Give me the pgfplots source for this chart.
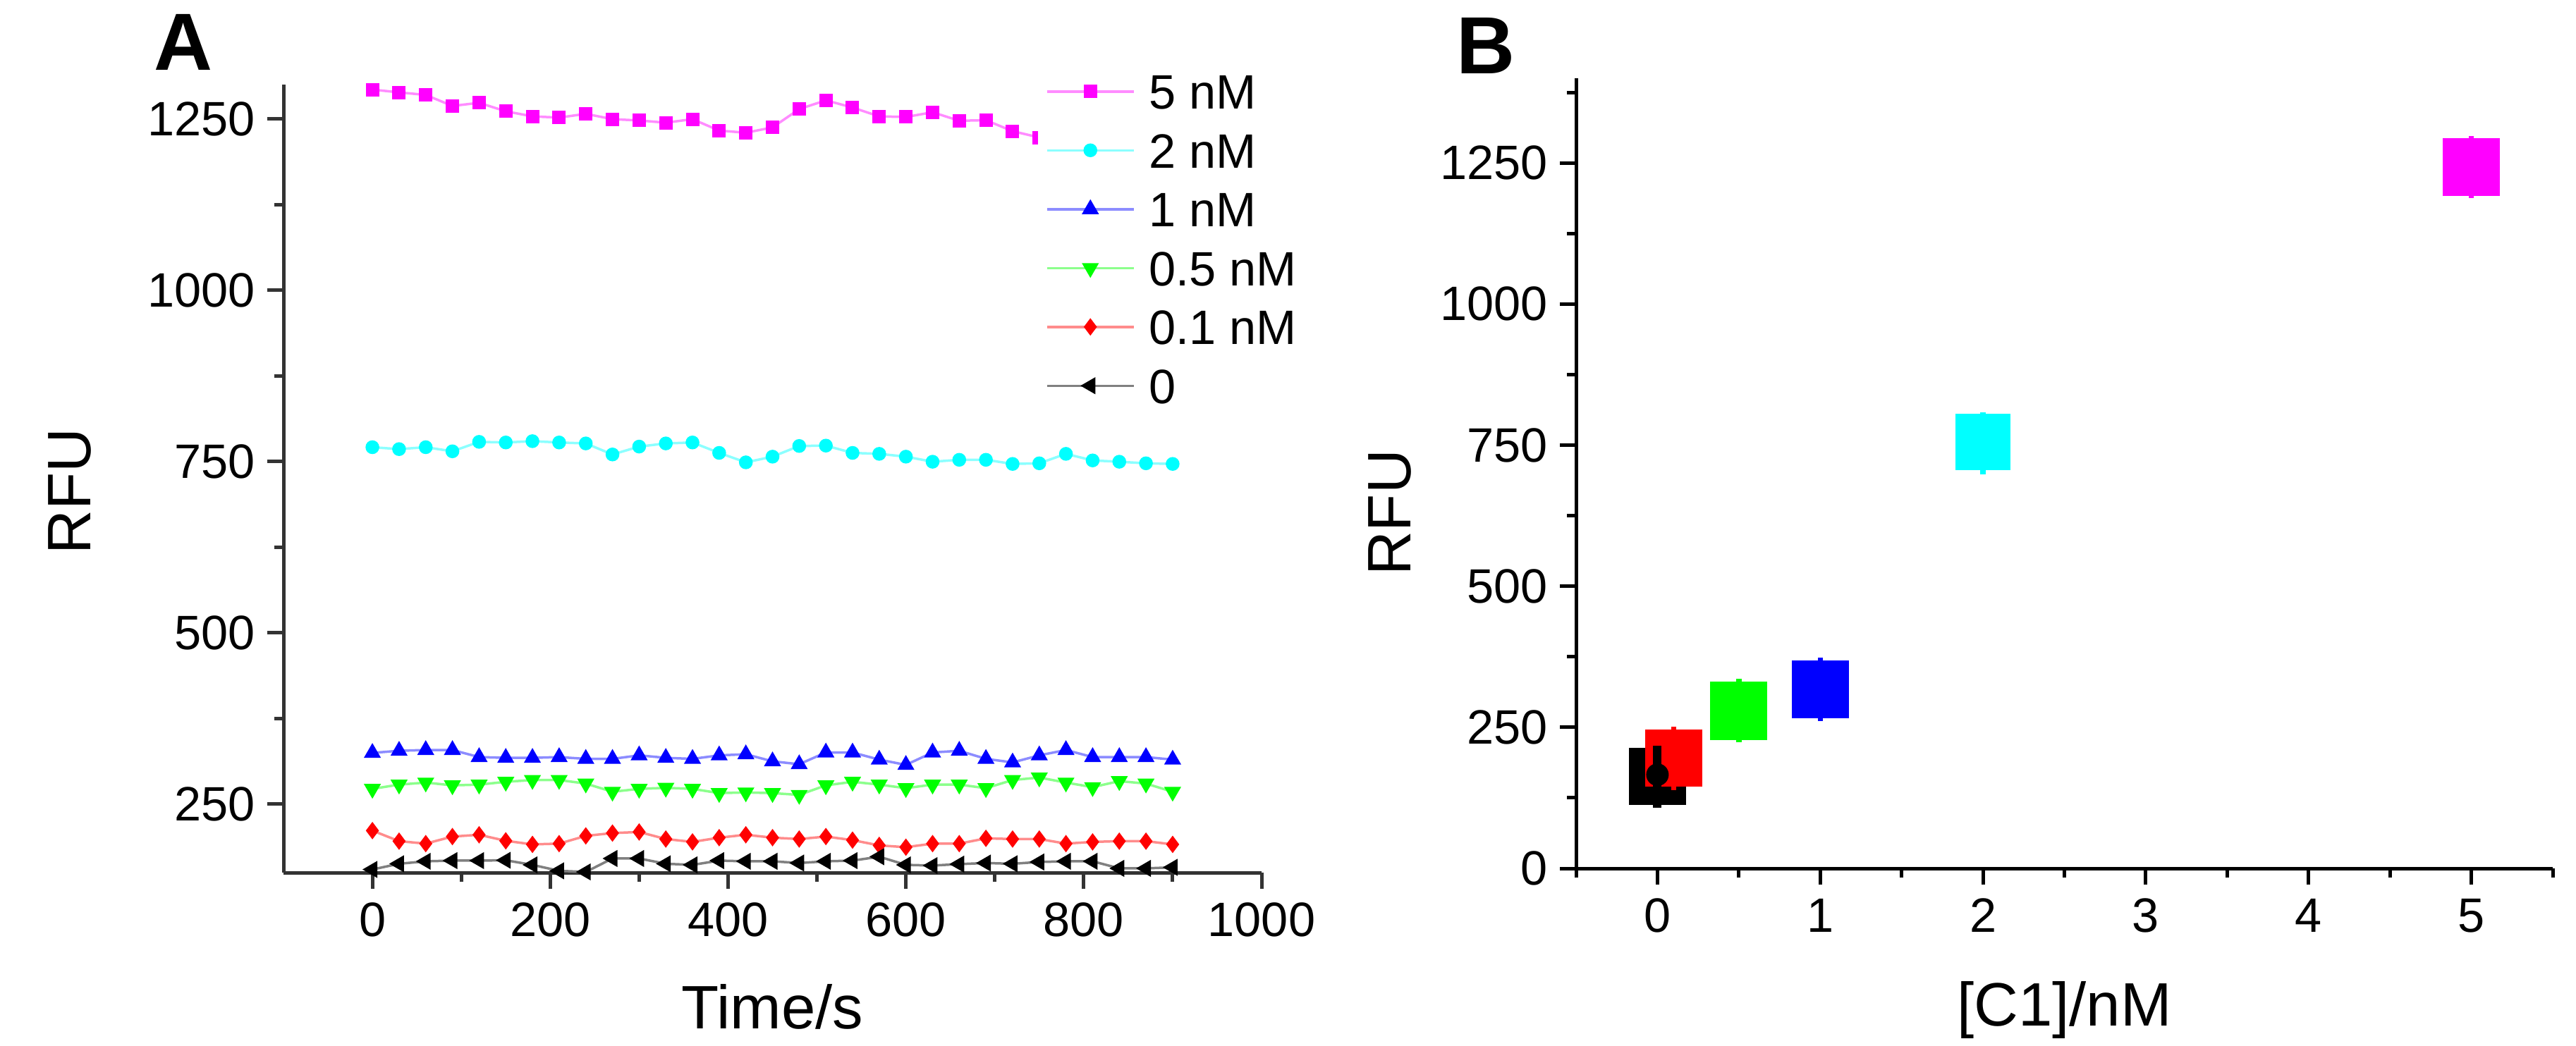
\documentclass[border=0pt]{standalone}
\usepackage{fontspec}
\setmainfont{Liberation Sans}
\usepackage{pgfplots}
\usepackage{pgfplotstable}
\pgfplotsset{compat=1.18}

\definecolor{cMag}{RGB}{255,0,255}
\definecolor{cCya}{RGB}{0,255,255}
\definecolor{cBlu}{RGB}{0,0,255}
\definecolor{cGre}{RGB}{0,255,0}
\definecolor{cRed}{RGB}{255,0,0}
\definecolor{cBla}{RGB}{0,0,0}

\pgfplotstableread{
t m c b g r k
0 1292.7 770.8 324.7 272.2 211.3 154.6
30 1288.6 768.0 327.8 278.4 195.9 162.9
60 1284.9 770.8 328.9 281.4 192.3 166.5
90 1268.8 764.8 328.9 277.3 202.6 167.5
120 1273.4 778.6 318.6 278.4 205.2 167.5
150 1261.0 777.7 317.5 282.5 196.4 168.0
180 1253.6 779.6 317.5 285.1 191.2 161.3
210 1251.8 777.7 318.6 285.1 192.3 152.6
240 1257.3 776.3 316.0 279.9 203.6 151.0
270 1249.5 760.2 316.0 268.0 207.7 170.6
300 1247.6 771.7 321.1 272.2 209.3 170.6
330 1244.4 776.3 317.5 273.7 199.0 162.9
360 1249.5 777.7 316.0 272.2 194.8 161.3
390 1232.9 762.5 321.1 266.0 201.0 167.5
420 1229.7 748.7 322.7 267.0 205.2 166.5
450 1237.5 757.0 312.4 266.0 201.0 166.5
480 1264.2 772.6 308.2 263.4 199.0 164.0
510 1277.0 773.1 325.3 277.3 202.6 166.5
540 1266.5 762.5 325.3 282.5 197.4 167.5
570 1253.6 761.1 314.9 278.4 189.7 173.2
600 1252.7 757.0 307.2 273.2 187.1 161.3
630 1259.6 749.6 325.3 278.4 192.3 160.3
660 1247.2 752.4 327.8 278.4 192.3 162.4
690 1248.0 752.4 316.0 273.2 200.0 164.0
720 1232.0 746.4 310.8 285.1 199.0 162.9
750 1222.8 747.3 321.1 288.7 199.0 165.5
780 1220.0 761.1 328.9 281.4 192.3 166.5
810 1215.0 751.5 318.6 274.7 194.8 166.5
840 1218.0 749.6 318.6 283.5 195.9 156.2
870 1212.0 747.3 318.6 279.9 195.9 156.2
900 1210.0 746.4 314.9 268.0 191.2 157.7
}\dataA

\newcommand{\ticksize}{\fontsize{13.7bp}{16bp}\selectfont}
\newcommand{\labsize}{\fontsize{17.4bp}{20bp}\selectfont}

\pgfplotsset{
  common/.style={
    scale only axis,
    axis lines=left,
    axis line style={-, line width=1bp},
    tick align=outside,
    tick style={line width=1bp},
    major tick length=4.6bp,
    minor tick length=2.6bp,
    tick label style={font=\ticksize},
    /pgf/number format/assume math mode=true,
    /pgf/number format/1000 sep={},
    label style={font=\labsize},
    yticklabel style={inner sep=0pt, xshift=-3.3bp},
    xticklabel style={inner sep=0pt, yshift=-3.8bp},
  },
}

\begin{document}
\begin{tikzpicture}
\path[use as bounding box] (0,0) rectangle (730.6bp,296.8bp);

\begin{axis}[common,
  at={(80.4bp,49.2bp)}, anchor=south west,
  width=277.4bp, height=223.6bp,
  xmin=-100, xmax=1000, ymin=150, ymax=1300,
  axis line style={black!80}, tick style={black!80},
  xtick={0,200,...,1000}, ytick={250,500,...,1250},
  minor xtick={100,300,...,900}, minor ytick={375,625,875,1125},
  xlabel={Time/s}, ylabel={RFU},
  xlabel style={at={(axis description cs:0.5,-0.1977)}, anchor=base},
  ylabel style={at={(axis description cs:-0.1975,0.484)}, anchor=base},
  clip=false,
  legend style={
    at={(axis cs:747.8,1328)}, anchor=north west,
    draw=none, fill=white, inner xsep=2.2bp, inner ysep=2.2bp,
    font=\ticksize, row sep=6.7bp, column sep=4bp,
    nodes={inner sep=0pt, text height=10bp, text depth=0pt},
  },
  legend cell align=left,
  legend image code/.code={\draw[mark repeat=2,mark phase=2,#1] plot coordinates {(0bp,0bp)(12.3bp,0bp)(24.6bp,0bp)};},
  every axis plot/.append style={line width=0.7bp},
]
\addplot[color=cMag!45, mark=square*, mark size=1.55bp, mark options={solid, fill=cMag, draw=cMag}] table[x=t,y=m] {\dataA};
\addlegendentry{5 nM}
\addplot[color=cCya!45, mark=*, mark size=1.6bp, mark options={solid, fill=cCya, draw=cCya}] table[x=t,y=c] {\dataA};
\addlegendentry{2 nM}
\addplot[color=cBlu!45, mark=triangle*, mark size=2.1bp, mark options={solid, fill=cBlu, draw=cBlu}] table[x=t,y=b] {\dataA};
\addlegendentry{1 nM}
\addplot[color=cGre!45, mark=triangle*, mark size=2.1bp, mark options={solid, rotate=180, fill=cGre, draw=cGre}] table[x=t,y=g] {\dataA};
\addlegendentry{0.5 nM}
\addplot[color=cRed!45, mark=diamond*, mark size=1.9bp, mark options={solid, fill=cRed, draw=cRed}] table[x=t,y=r] {\dataA};
\addlegendentry{0.1 nM}
\addplot[color=cBla!50, mark=triangle*, mark size=2.1bp, mark options={solid, rotate=90, fill=cBla, draw=cBla}] table[x=t,y=k] {\dataA};
\addlegendentry{0}
\end{axis}

\begin{axis}[common,
  at={(447bp,50.4bp)}, anchor=south west,
  width=277bp, height=224.2bp,
  xmin=-0.5, xmax=5.5, ymin=0, ymax=1400,
  axis line style={black}, tick style={black},
  xtick={0,1,2,3,4,5}, ytick={0,250,500,750,1000,1250},
  minor xtick={-0.5,0.5,1.5,2.5,3.5,4.5,5.5}, minor ytick={125,375,625,875,1125,1375},
  xlabel={\relax [C1]/nM}, ylabel={RFU},
  xlabel style={at={(axis description cs:0.5,-0.199)}, anchor=base},
  ylabel style={at={(axis description cs:-0.169,0.450)}, anchor=base},
]
% black (0 nM)
\addplot[fill=cBla, draw=none] coordinates {(-0.175,112.7) (0.175,112.7) (0.175,213.8) (-0.175,213.8)} -- cycle;
% red (0.1 nM)
\addplot[fill=cRed, draw=none] coordinates {(-0.075,144.3) (0.275,144.3) (0.275,246.5) (-0.075,246.5)} -- cycle;
\addplot[cRed, line width=1.5bp] coordinates {(0.1,138.8) (0.1,251.4)};
% green (0.5 nM)
\addplot[fill=cGre, draw=none] coordinates {(0.325,227.4) (0.675,227.4) (0.675,330.8) (0.325,330.8)} -- cycle;
\addplot[cGre, line width=1.5bp] coordinates {(0.5,223.2) (0.5,335.8)};
% blue (1 nM)
\addplot[fill=cBlu, draw=none] coordinates {(0.825,266.6) (1.175,266.6) (1.175,369.0) (0.825,369.0)} -- cycle;
\addplot[cBlu, line width=1.5bp] coordinates {(1,261.2) (1,373.8)};
% cyan (2 nM)
\addplot[fill=cCya, draw=none] coordinates {(1.83,705) (2.17,705) (2.17,806) (1.83,806)} -- cycle;
\addplot[cCya, line width=1.5bp] coordinates {(2,698) (2,808.6)};
% magenta (5 nM)
\addplot[fill=cMag, draw=none] coordinates {(4.825,1191.4) (5.175,1191.4) (5.175,1294.4) (4.825,1294.4)} -- cycle;
\addplot[cMag, line width=1.5bp] coordinates {(5,1187.7) (5,1297.5)};
% black whisker and mean on top
\addplot[cBla, line width=2.4bp] coordinates {(0,107.2) (0,217.7)};
\addplot[cBla, only marks, mark=*, mark size=3bp] coordinates {(0,166)};
\end{axis}

\node[font=\fontsize{23bp}{25bp}\bfseries\selectfont, anchor=base west, inner sep=0pt] at (43.4bp,276.8bp) {A};
\node[font=\fontsize{23bp}{25bp}\bfseries\selectfont, anchor=base west, inner sep=0pt] at (412.8bp,275.8bp) {B};
\end{tikzpicture}
\end{document}
